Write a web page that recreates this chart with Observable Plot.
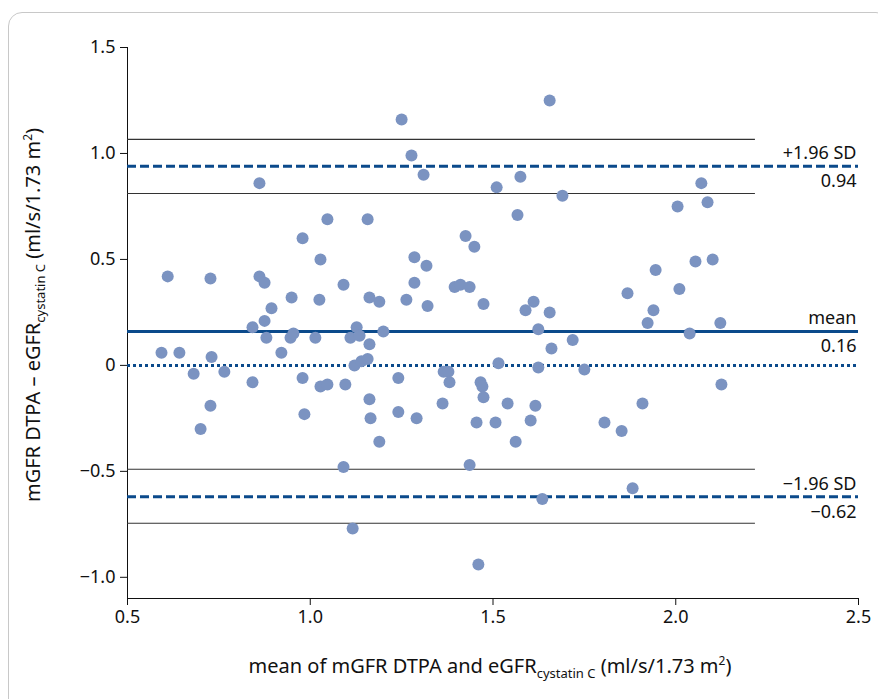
<!DOCTYPE html>
<html><head><meta charset="utf-8">
<script src="https://cdn.jsdelivr.net/npm/d3@7"></script>
<script src="https://cdn.jsdelivr.net/npm/@observablehq/plot@0.6"></script>
<style>
body{margin:0;background:#fff;font-family:"Noto Sans",sans-serif;}
#wrap{position:relative;width:878px;height:699px;}
#frame{position:absolute;left:8px;top:12px;width:880px;height:700px;border:1.5px solid #c8c8c8;border-radius:14px;}
svg{position:absolute;left:0;top:0;}
</style></head><body>
<div id="wrap"><div id="frame"></div></div>
<script>
const meanX=[0.61,0.727,0.861,0.875,0.861,0.894,0.875,0.842,0.880,0.949,0.979,1.028,1.047,1.025,0.946,0.954,1.014,0.921,0.593,0.642,0.730,0.681,0.765,0.842,0.727,0.700,0.979,1.028,1.047,0.984,1.091,1.096,1.091,1.116,1.127,1.110,1.135,1.162,1.121,1.140,1.157,1.157,1.162,1.189,1.200,1.162,1.165,1.189,1.250,1.277,1.310,1.241,1.241,1.291,1.285,1.318,1.285,1.263,1.321,1.362,1.365,1.378,1.381,1.425,1.449,1.395,1.411,1.436,1.474,1.436,1.466,1.471,1.474,1.455,1.507,1.510,1.515,1.460,1.655,1.575,1.690,1.567,1.611,1.589,1.655,1.624,1.660,1.718,1.624,1.750,1.540,1.616,1.603,1.562,1.635,1.868,1.805,1.852,1.882,1.909,1.923,1.939,1.945,2.005,2.010,2.038,2.054,2.070,2.087,2.101,2.122,2.125];
const diffY=[0.42,0.41,0.42,0.39,0.86,0.27,0.21,0.18,0.13,0.32,0.60,0.50,0.69,0.31,0.13,0.15,0.13,0.06,0.06,0.06,0.04,-0.04,-0.03,-0.08,-0.19,-0.30,-0.06,-0.10,-0.09,-0.23,0.38,-0.09,-0.48,-0.77,0.18,0.13,0.14,0.10,0.00,0.02,0.03,0.69,0.32,0.30,0.16,-0.16,-0.25,-0.36,1.16,0.99,0.90,-0.06,-0.22,-0.25,0.51,0.47,0.39,0.31,0.28,-0.18,-0.03,-0.03,-0.08,0.61,0.56,0.37,0.38,0.37,0.29,-0.47,-0.08,-0.10,-0.15,-0.27,-0.27,0.84,0.01,-0.94,1.25,0.89,0.80,0.71,0.30,0.26,0.25,0.17,0.08,0.12,-0.01,-0.02,-0.18,-0.19,-0.26,-0.36,-0.63,0.34,-0.27,-0.31,-0.58,-0.18,0.20,0.26,0.45,0.75,0.36,0.15,0.49,0.86,0.77,0.50,0.20,-0.09];
const meanDiff=0.16, upperLoA=0.94, lowerLoA=-0.62;
const ciLines=[1.066,0.811,-0.49,-0.745];
const lineEnd=2.218;
const xTicks=[0.5,1.0,1.5,2.0,2.5];
const yTicks=[1.5,1.0,0.5,0,-0.5,-1.0];
const labelsAbove=[{y:upperLoA,text:"+1.96 SD"},{y:meanDiff,text:"mean"},{y:lowerLoA,text:"\u22121.96 SD"}];
const labelsBelow=[{y:upperLoA,text:"0.94"},{y:meanDiff,text:"0.16"},{y:lowerLoA,text:"\u22120.62"}];
const pts=meanX.map((x,i)=>({x,y:diffY[i]}));
const blue="#0b4a8b";
const fmt=v=>v===0?"0":(v<0?"\u2212":"")+Math.abs(v).toFixed(1);
const plot=Plot.plot({
 width:878,height:699,marginLeft:127,marginRight:20,marginTop:47,marginBottom:101,
 style:{fontFamily:"Noto Sans",fontSize:"18px",color:"#111",background:"transparent"},
 x:{domain:[0.5,2.5],ticks:xTicks,tickFormat:v=>v.toFixed(1),label:null,tickSize:7,tickPadding:5},
 y:{domain:[-1.1,1.5],ticks:yTicks,tickFormat:fmt,label:null,tickSize:7,tickPadding:5},
 marks:[
  Plot.ruleX([0.5],{stroke:"#111",strokeWidth:1}),
  Plot.ruleY([-1.1],{stroke:"#111",strokeWidth:1}),
  Plot.ruleY(ciLines,{x1:0.5,x2:lineEnd,stroke:"#333",strokeWidth:1.2}),
  Plot.ruleY([0],{x1:0.5,x2:2.5,stroke:blue,strokeWidth:3,strokeDasharray:"3,3"}),
  Plot.ruleY([upperLoA,lowerLoA],{x1:0.5,x2:2.5,stroke:blue,strokeWidth:3,strokeDasharray:"9,4"}),
  Plot.ruleY([meanDiff],{x1:0.5,x2:2.5,stroke:blue,strokeWidth:3}),
  Plot.dot(pts,{x:"x",y:"y",r:6,fill:"#7b93c1",stroke:"none"}),
  Plot.text(labelsAbove,{x:2.5,y:"y",text:"text",textAnchor:"end",dx:-2,dy:-13,fontSize:18,fill:"#111"}),
  Plot.text(labelsBelow,{x:2.5,y:"y",text:"text",textAnchor:"end",dx:-2,dy:15,fontSize:18,fill:"#111"})
 ]
});
document.getElementById("wrap").appendChild(plot);
const svg=d3.select(plot);
const yl=svg.append("text").attr("transform","translate(40,315) rotate(-90)").attr("text-anchor","middle").attr("font-size",20).attr("fill","#111");
yl.append("tspan").text("mGFR DTPA \u2013 eGFR");
yl.append("tspan").attr("font-size",13).attr("dy",5).text("cystatin C");
yl.append("tspan").attr("dy",-5).text(" (ml/s/1.73 m");
yl.append("tspan").attr("font-size",12).attr("dy",-8).text("2");
yl.append("tspan").attr("dy",8).text(")");
const xl=svg.append("text").attr("x",490).attr("y",673).attr("text-anchor","middle").attr("font-size",20).attr("fill","#111");
xl.append("tspan").text("mean of mGFR DTPA and eGFR");
xl.append("tspan").attr("font-size",13).attr("dy",5).text("cystatin C");
xl.append("tspan").attr("dy",-5).text(" (ml/s/1.73 m");
xl.append("tspan").attr("font-size",12).attr("dy",-8).text("2");
xl.append("tspan").attr("dy",8).text(")");
</script></body></html>
